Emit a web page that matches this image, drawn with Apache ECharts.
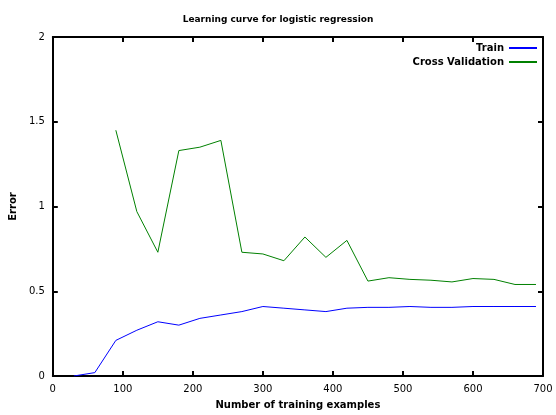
<!DOCTYPE html>
<html><head><meta charset="utf-8">
<script src="https://cdn.jsdelivr.net/npm/echarts@6/dist/echarts.min.js"></script>
<style>html,body{margin:0;background:#fff}#c{width:556px;height:415px}</style>
</head><body><div id="c"></div>
<script>
var xs = [30,60,90,120,150,180,210,240,270,300,330,360,390,420,450,480,510,540,570,600,630,660,690];
var train = [0,0.02,0.21,0.27,0.32,0.30,0.34,0.36,0.38,0.41,0.40,0.39,0.38,0.40,0.405,0.405,0.41,0.405,0.405,0.41,0.41,0.41,0.41];
var cv = [null,null,1.45,0.97,0.73,1.33,1.35,1.39,0.73,0.72,0.68,0.82,0.70,0.80,0.56,0.58,0.57,0.565,0.555,0.575,0.57,0.54,0.54];
function pts(v){var r=[];for(var i=0;i<xs.length;i++) if(v[i]!=null) r.push([xs[i],v[i]]);return r;}
var f = {fontFamily:'DejaVu Sans',fontSize:10,color:'#000',fontWeight:'bold'};
function ax(o){return Object.assign({axisLine:{onZero:false,lineStyle:{color:'#000',width:2}},axisTick:{inside:true,length:5,lineStyle:{color:'#000',width:2}},splitLine:{show:false}},o);}
var lab = Object.assign({},f,{fontWeight:'normal'});
var chart = echarts.init(document.getElementById('c'));
chart.setOption({
  animation:false,
  title:{text:'Learning curve for logistic regression',left:'center',top:10,textStyle:Object.assign({},f,{fontSize:9})},
  legend:{right:14,top:38,orient:'vertical',align:'right',itemWidth:28,itemHeight:2,itemGap:4,icon:'rect',textStyle:f},
  grid:{left:44,right:13,top:37,bottom:39},
  xAxis:[
    ax({type:'value',min:0,max:700,interval:100,name:'Number of training examples',nameLocation:'middle',nameGap:24,nameTextStyle:f,axisLabel:lab}),
    ax({type:'value',position:'top',min:0,max:700,interval:100,axisLabel:{show:false}})
  ],
  yAxis:[
    ax({type:'value',min:0,max:2,interval:0.5,name:'Error',nameLocation:'middle',nameGap:32,nameTextStyle:f,axisLabel:Object.assign({},lab,{formatter:function(v){return String(v);}})}),
    ax({type:'value',position:'right',min:0,max:2,interval:0.5,axisLabel:{show:false}})
  ],
  series:[
    {name:'Train',type:'line',data:pts(train),showSymbol:false,lineStyle:{color:'#0000ff',width:1},itemStyle:{color:'#0000ff'}},
    {name:'Cross Validation',type:'line',data:pts(cv),showSymbol:false,lineStyle:{color:'#008000',width:1},itemStyle:{color:'#008000'}}
  ]
});
</script></body></html>
